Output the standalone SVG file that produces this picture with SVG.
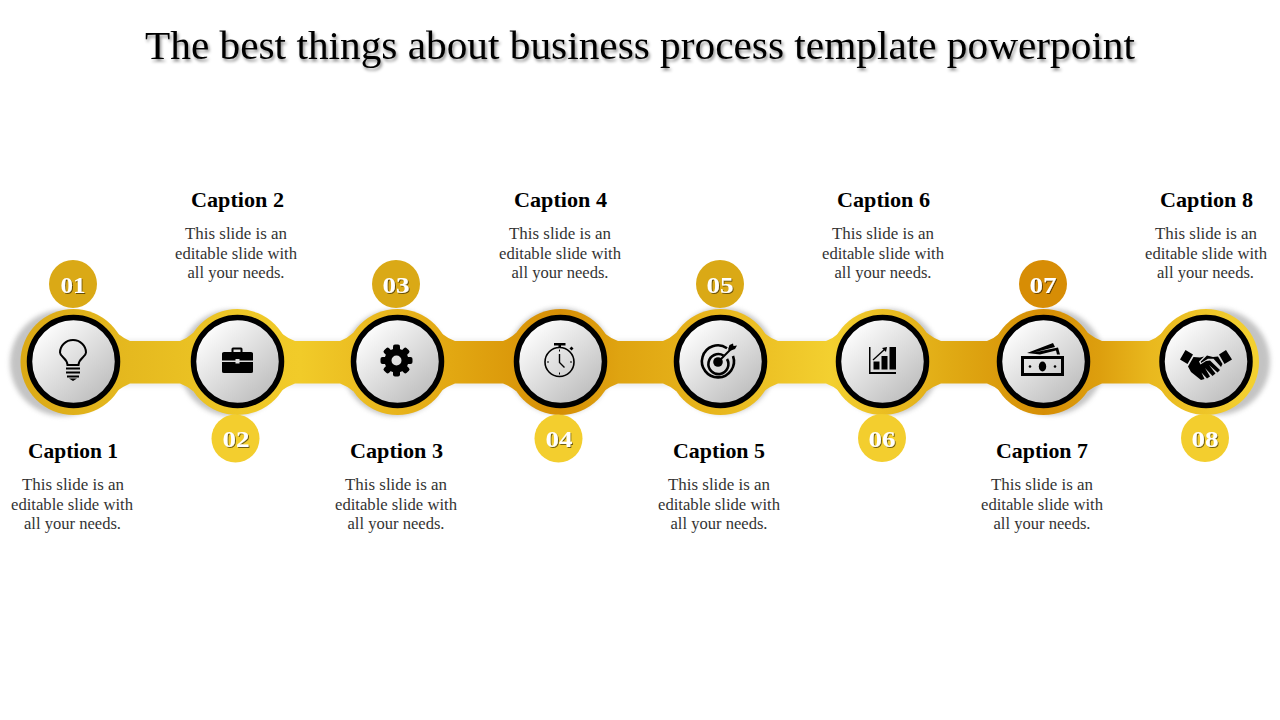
<svg xmlns="http://www.w3.org/2000/svg" width="1280" height="720" viewBox="0 0 1280 720">
<style>
text{font-family:"Liberation Serif","Times New Roman",serif;text-anchor:middle}
.title{font-size:40px;fill:#000;filter:url(#ts)}
.cap{font-size:21px;font-weight:bold;fill:#000}
.body{font-size:16.8px;fill:#333}
.num{font-size:24px;font-weight:bold;fill:#fff;filter:url(#ns)}
.ring{fill:url(#band)}
.disc{fill:url(#disc);stroke:#000;stroke-width:5.5}
.sh{fill:#888;opacity:.5;filter:url(#blur)}
.dark{fill:#D78D05}.gold{fill:#DAA916}.yel{fill:#F3CE2E}
.ln{fill:none;stroke:#000;stroke-width:2}
.k{fill:#000}
</style>
<defs>
<linearGradient id="band" gradientUnits="userSpaceOnUse" x1="21" y1="0" x2="1252" y2="0">
<stop offset="0" stop-color="#DBA915"/><stop offset=".0885" stop-color="#E5B91F"/><stop offset=".1755" stop-color="#EEC726"/><stop offset=".2267" stop-color="#F1CB29"/><stop offset=".3054" stop-color="#E8B41C"/><stop offset=".3485" stop-color="#E2A812"/><stop offset=".4379" stop-color="#D68E05"/><stop offset=".4866" stop-color="#DFA411"/><stop offset=".5679" stop-color="#E8B71D"/><stop offset=".6572" stop-color="#F3D030"/><stop offset=".7002" stop-color="#EBBE22"/><stop offset=".7547" stop-color="#E0AA14"/><stop offset=".8310" stop-color="#D68E05"/><stop offset=".8765" stop-color="#DD9F0E"/><stop offset=".9171" stop-color="#E9B81E"/><stop offset="1" stop-color="#F3D030"/>
</linearGradient>
<linearGradient id="disc" x1=".15" y1=".1" x2=".85" y2=".9"><stop offset="0" stop-color="#fff"/><stop offset="1" stop-color="#bdbdbd"/></linearGradient>
<filter id="blur" x="-20%" y="-20%" width="140%" height="140%"><feGaussianBlur stdDeviation="2.500"/></filter>
<filter id="ts" x="-2%" y="-30%" width="104%" height="170%"><feDropShadow dx="1.5" dy="2.5" stdDeviation="1.800" flood-color="#000" flood-opacity=".45"/></filter>
<filter id="ns" x="-20%" y="-20%" width="140%" height="150%"><feDropShadow dx="1" dy="1" stdDeviation=".4" flood-color="#000" flood-opacity=".55"/></filter>
</defs>
<rect width="1280" height="720" fill="#fff"/>
<text class="title" x="640" y="59" textLength="990" lengthAdjust="spacingAndGlyphs">The best things about business process template powerpoint</text>

<g id="shadows">
<path class="sh" style="opacity:.18" d="M70 340H1210V386H70Z"/>
<circle class="sh" cx="63" cy="363" r="53"/>
<circle class="sh" cx="232" cy="363" r="53"/>
<circle class="sh" cx="395" cy="363" r="53"/>
<circle class="sh" cx="560" cy="361" r="53"/>
<circle class="sh" cx="723" cy="361" r="53"/>
<circle class="sh" cx="887" cy="362" r="53"/>
<circle class="sh" cx="1051" cy="362" r="53"/>
<circle class="sh" cx="1217" cy="362" r="53"/>
</g>

<g id="connectors">
<path class="ring" d="M73 333H117Q124 338.500 130 341H180Q187 338.500 193 333H281Q288 338.500 295 341H340Q347 338.500 353 333H441Q448 338.500 455 341H503Q510 338.500 516 333H604Q611 338.500 618 341H663Q670 338.500 676 333H764Q771 338.500 778 341H826Q833 338.500 839 333H927Q934 338.500 941 341H987Q994 338.500 1000 333H1088Q1095 338.500 1102 341H1149Q1156 338.500 1162 333H1206V391H1162Q1156 386 1149 383.500H1102Q1095 386 1088 391H1000Q994 386 987 383.500H941Q934 386 927 391H839Q833 386 826 383.500H778Q771 386 764 391H676Q670 386 663 383.500H618Q611 386 604 391H516Q510 386 503 383.500H455Q448 386 441 391H353Q347 386 340 383.500H295Q288 386 281 391H193Q187 386 180 383.500H130Q124 386 117 391H73Z"/>
</g>

<g id="node1">
<circle class="ring" cx="73.500" cy="362" r="53"/>
<circle class="gold" cx="73" cy="284" r="24"/><text class="num" x="73" y="293" textLength="25" lengthAdjust="spacingAndGlyphs">01</text>
<circle class="disc" cx="73.500" cy="361.500" r="44"/>
<path class="ln" d="M67.500 365C67 358 60 357 60 352.500A13 12.500 0 0 1 86 352.500C86 357 79 358 78.500 365Z"/>
<path class="k" d="M66 367.500H80V369.500H66ZM66 371.500H80V373.500H66ZM67 375.500H79V377.500H67ZM69 378.500H77L73 381Z"/>
<text class="cap" x="73" y="458" textLength="90" lengthAdjust="spacingAndGlyphs">Caption 1</text>
<text class="body" x="73" y="490" textLength="102" lengthAdjust="spacingAndGlyphs">This slide is an</text>
<text class="body" x="72" y="510" textLength="122" lengthAdjust="spacingAndGlyphs">editable slide with</text>
<text class="body" x="72.500" y="529" textLength="97" lengthAdjust="spacingAndGlyphs">all your needs.</text>
</g>

<g id="node2">
<circle class="ring" cx="237.500" cy="362" r="53"/>
<circle class="yel" cx="235.500" cy="438.500" r="24"/><text class="num" x="236" y="447" textLength="27" lengthAdjust="spacingAndGlyphs">02</text>
<circle class="disc" cx="237.500" cy="361.500" r="44"/>
<path class="k" d="M222 353.500Q222 352 224 352H231.500V349Q231.500 347.500 233 347.500H241Q242.500 347.500 242.500 349V352H251Q253 352 253 353.500V360.500H239.500V359H235.500V360.500H222ZM233.500 352H240.500V349.500H233.500ZM222 362H235.500V363.500H239.500V362H253V371.500Q253 373 251 373H224Q222 373 222 371.500Z"/>
<text class="cap" x="237.500" y="207" textLength="93" lengthAdjust="spacingAndGlyphs">Caption 2</text>
<text class="body" x="236" y="239" textLength="102" lengthAdjust="spacingAndGlyphs">This slide is an</text>
<text class="body" x="236" y="259" textLength="122" lengthAdjust="spacingAndGlyphs">editable slide with</text>
<text class="body" x="236" y="278" textLength="97" lengthAdjust="spacingAndGlyphs">all your needs.</text>
</g>

<g id="node3">
<circle class="ring" cx="397.500" cy="362" r="53"/>
<circle class="gold" cx="396" cy="284" r="24"/><text class="num" x="396" y="293" textLength="27" lengthAdjust="spacingAndGlyphs">03</text>
<circle class="disc" cx="397.500" cy="361.500" r="44"/>
<g transform="translate(396.500 360.500)">
<g class="k"><rect x="-3.500" y="-16" width="7" height="8" rx="2"/><rect x="-3.500" y="-16" width="7" height="8" rx="2" transform="rotate(45)"/><rect x="-3.500" y="-16" width="7" height="8" rx="2" transform="rotate(90)"/><rect x="-3.500" y="-16" width="7" height="8" rx="2" transform="rotate(135)"/><rect x="-3.500" y="-16" width="7" height="8" rx="2" transform="rotate(180)"/><rect x="-3.500" y="-16" width="7" height="8" rx="2" transform="rotate(225)"/><rect x="-3.500" y="-16" width="7" height="8" rx="2" transform="rotate(270)"/><rect x="-3.500" y="-16" width="7" height="8" rx="2" transform="rotate(315)"/></g>
<circle r="8.500" fill="none" stroke="#000" stroke-width="7"/>
</g>
<text class="cap" x="396.500" y="458" textLength="93" lengthAdjust="spacingAndGlyphs">Caption 3</text>
<text class="body" x="396" y="490" textLength="102" lengthAdjust="spacingAndGlyphs">This slide is an</text>
<text class="body" x="396" y="510" textLength="122" lengthAdjust="spacingAndGlyphs">editable slide with</text>
<text class="body" x="396" y="529" textLength="97" lengthAdjust="spacingAndGlyphs">all your needs.</text>
</g>

<g id="node4">
<circle class="ring" cx="560.500" cy="362" r="53"/>
<circle class="yel" cx="558.500" cy="438.500" r="24"/><text class="num" x="559" y="447" textLength="27" lengthAdjust="spacingAndGlyphs">04</text>
<circle class="disc" cx="560.500" cy="361.500" r="44"/>
<circle class="ln" cx="559.500" cy="362" r="14.500" style="stroke-width:1.600"/>
<path class="k" d="M554 343H565.500V345.500H561V348H558.500V345.500H554ZM569.500 348.500L571.500 346.500L573.500 348.500L571.500 350.500Z"/>
<path class="ln" style="stroke-width:1.400" d="M559.500 354V362.500L564.500 367.500"/>
<path class="k" d="M559 349.500h1v2h-1zM559 372.500h1v2h-1zM547 361.500h2v1h-2zM570 361.500h2v1h-2z"/>
<text class="cap" x="560.500" y="207" textLength="93" lengthAdjust="spacingAndGlyphs">Caption 4</text>
<text class="body" x="560" y="239" textLength="102" lengthAdjust="spacingAndGlyphs">This slide is an</text>
<text class="body" x="560" y="259" textLength="122" lengthAdjust="spacingAndGlyphs">editable slide with</text>
<text class="body" x="560" y="278" textLength="97" lengthAdjust="spacingAndGlyphs">all your needs.</text>
</g>

<g id="node5">
<circle class="ring" cx="720.500" cy="362" r="53"/>
<circle class="gold" cx="720" cy="284" r="24"/><text class="num" x="720" y="293" textLength="27" lengthAdjust="spacingAndGlyphs">05</text>
<circle class="disc" cx="720.500" cy="361.500" r="44"/>
<path class="ln" style="stroke-width:2.600" d="M727 348.200A16 16 0 1 0 733 356M723.500 355.500A10 10 0 1 0 727 359"/>
<circle class="k" cx="718" cy="362" r="4.800"/>
<path class="ln" d="M718 362L731 349"/>
<path class="k" d="M728 349.500L729.500 345L733 343.500L733.500 346L737 345.500L735 349L731 350.500Z"/>
<text class="cap" x="719" y="458" textLength="92" lengthAdjust="spacingAndGlyphs">Caption 5</text>
<text class="body" x="719" y="490" textLength="102" lengthAdjust="spacingAndGlyphs">This slide is an</text>
<text class="body" x="719" y="510" textLength="122" lengthAdjust="spacingAndGlyphs">editable slide with</text>
<text class="body" x="719" y="529" textLength="97" lengthAdjust="spacingAndGlyphs">all your needs.</text>
</g>

<g id="node6">
<circle class="ring" cx="882.500" cy="362" r="53"/>
<circle class="yel" cx="882" cy="438" r="24"/><text class="num" x="882" y="447" textLength="27" lengthAdjust="spacingAndGlyphs">06</text>
<circle class="disc" cx="882.500" cy="361.500" r="44"/>
<path class="k" d="M869 347H870.500V372H896V374H869ZM873.500 361.500H879.500V369.500H873.500ZM881.500 356H887.500V369.500H881.500ZM889.500 347H896V369.500H889.500Z"/>
<path class="ln" style="stroke-width:1.300" d="M873 360L885 349"/>
<path class="k" d="M882 348L887 347L886 352Z"/>
<text class="cap" x="883.500" y="207" textLength="93" lengthAdjust="spacingAndGlyphs">Caption 6</text>
<text class="body" x="883" y="239" textLength="102" lengthAdjust="spacingAndGlyphs">This slide is an</text>
<text class="body" x="883" y="259" textLength="122" lengthAdjust="spacingAndGlyphs">editable slide with</text>
<text class="body" x="883" y="278" textLength="97" lengthAdjust="spacingAndGlyphs">all your needs.</text>
</g>

<g id="node7">
<circle class="ring" cx="1043.500" cy="362" r="53"/>
<circle class="dark" cx="1043" cy="284" r="24"/><text class="num" x="1043" y="293" textLength="27" lengthAdjust="spacingAndGlyphs">07</text>
<circle class="disc" cx="1043.500" cy="361.500" r="44"/>
<path class="k" d="M1021 356H1064V376H1021ZM1024 359V373H1061V359Z"/>
<ellipse class="k" cx="1042.500" cy="366.500" rx="3.700" ry="5"/>
<circle class="k" cx="1030" cy="366.500" r="1.300"/><circle class="k" cx="1055" cy="366.500" r="1.300"/>
<path class="k" d="M1027 353L1053 343L1055 347L1034 352.500L1058 347.500L1060 354.500L1057 354.500L1056 350.500L1040 354.500Z"/>
<text class="cap" x="1042" y="458" textLength="92" lengthAdjust="spacingAndGlyphs">Caption 7</text>
<text class="body" x="1042" y="490" textLength="102" lengthAdjust="spacingAndGlyphs">This slide is an</text>
<text class="body" x="1042" y="510" textLength="122" lengthAdjust="spacingAndGlyphs">editable slide with</text>
<text class="body" x="1042" y="529" textLength="97" lengthAdjust="spacingAndGlyphs">all your needs.</text>
</g>

<g id="node8">
<circle class="ring" cx="1206" cy="362" r="53"/>
<circle class="yel" cx="1205" cy="438" r="24"/><text class="num" x="1205" y="447" textLength="27" lengthAdjust="spacingAndGlyphs">08</text>
<circle class="disc" cx="1206" cy="361.500" r="44"/>
<path class="k" d="M1185.500 350L1193 354.500L1187.500 364L1180 359.500ZM1226 350L1232 359.500L1224.500 364L1219 354.500Z"/>
<path class="k" d="M1193.500 357L1200 357.500L1204 356.500L1199 361.500L1200.500 364.500L1206 361L1210 360.500L1220 370L1217.500 372.500L1209 365L1215.500 373.500L1212.500 376L1205 368L1210 376.500L1207 378.500L1201.500 372.500L1204.500 379L1201 380L1191 372L1188 366.500Z"/>
<path class="k" d="M1207 355.500L1213 357L1218 356.500L1222.500 364L1221 367L1213.500 358.800L1208 358.800L1201 363L1200.800 361.500Z"/>
<text class="cap" x="1206.500" y="207" textLength="93" lengthAdjust="spacingAndGlyphs">Caption 8</text>
<text class="body" x="1206" y="239" textLength="102" lengthAdjust="spacingAndGlyphs">This slide is an</text>
<text class="body" x="1206" y="259" textLength="122" lengthAdjust="spacingAndGlyphs">editable slide with</text>
<text class="body" x="1205.500" y="278" textLength="97" lengthAdjust="spacingAndGlyphs">all your needs.</text>
</g>
</svg>
